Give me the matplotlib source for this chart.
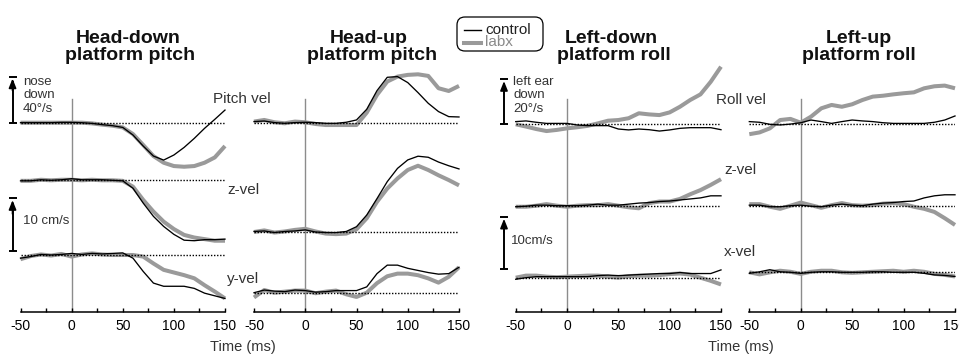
import numpy as np
import matplotlib
matplotlib.use("Agg")
import matplotlib.pyplot as plt
from matplotlib.patches import FancyBboxPatch
from matplotlib.lines import Line2D

plt.rcParams['font.family'] = ['Liberation Sans', 'DejaVu Sans']

# ---------------- data ----------------
time_ms = np.arange(-50, 151, 10)
tick_values = [-50, -25, 0, 25, 50, 75, 100, 125, 150]
tick_labels = ['-50', '', '0', '', '50', '', '100', '', '150']

panel_titles = [("Head-down", "platform pitch"), ("Head-up", "platform pitch"),
                ("Left-down", "platform roll"), ("Left-up", "platform roll")]
series_names = ["control", "labx"]

# Head-down platform pitch  (deg/s, cm/s)
hd_pitchvel_control = [0, 0, 0, 0, 0.3, 0.3, 0, -0.6, -1.7, -2.6, -4.1, -10.7, -20.3, -29.0, -32.5, -28.1, -21.5, -13.6, -4.9, 2.9, 11.0]
hd_pitchvel_labx = [0, 0, 0, 0, 0, 0, 0, -0.6, -1.7, -2.6, -4.1, -9.9, -19.4, -29.0, -34.8, -37.7, -38.3, -37.7, -34.8, -30.2, -20.3]
hd_zvel_control = [-0.1, -0.1, 0.1, 0.0, 0.1, 0.3, 0.1, 0.1, 0.1, 0.0, -0.1, -1.5, -4.3, -6.8, -8.7, -10.2, -11.3, -11.4, -11.2, -11.2, -11.1]
hd_zvel_labx = [-0.1, -0.1, 0.1, 0.0, 0.1, 0.1, 0.0, 0.1, 0.0, 0.0, -0.1, -1.2, -3.7, -5.9, -7.8, -9.2, -10.3, -10.8, -11.1, -11.4, -11.4]
hd_yvel_control = [-0.6, -0.3, 0.1, 0.0, 0.1, 0.3, 0.1, 0.3, 0.2, 0.3, 0.4, -0.6, -3.1, -5.3, -5.9, -5.9, -5.9, -6.3, -7.2, -7.7, -8.2]
hd_yvel_labx = [-0.8, -0.2, 0.1, -0.1, 0.2, -0.3, 0.1, 0.3, 0.1, 0.0, 0.0, 0.0, -0.3, -1.6, -2.8, -3.3, -3.8, -4.4, -5.7, -6.9, -8.2]

# Head-up platform pitch
hu_pitchvel_control = [1.5, 2.0, 0.6, 0.0, 0.6, 0.9, 0.6, 0.0, 0.0, 0.9, 2.9, 12.2, 28.4, 40.0, 40.6, 35.4, 26.7, 17.4, 10.2, 5.8, 5.5]
hu_pitchvel_labx = [1.5, 2.9, 0.9, 0.0, 1.5, 0.9, -0.6, -1.5, -1.5, -1.5, -1.5, 9.3, 24.7, 36.3, 40.6, 42.1, 42.6, 41.2, 30.5, 28.1, 32.5]
hu_zvel_control = [0.1, 0.2, -0.1, 0.1, 0.2, 0.4, 0.0, -0.1, -0.1, 0.1, 1.0, 3.2, 6.3, 9.5, 12.0, 13.6, 14.3, 14.1, 13.2, 12.5, 11.9]
hu_zvel_labx = [0.0, 0.3, -0.1, 0.1, 0.4, 0.6, 0.1, -0.3, -0.4, -0.3, 0.5, 2.6, 5.7, 8.2, 10.1, 11.7, 12.5, 11.7, 10.7, 9.8, 8.8]
hu_yvel_control = [0.0, 0.5, 0.3, 0.2, 0.5, 0.4, 0.1, 0.2, 0.4, 0.4, 0.4, 1.1, 3.6, 5.2, 5.2, 4.6, 4.2, 3.8, 3.5, 3.6, 4.8]
hu_yvel_labx = [-0.9, 0.5, 0.0, 0.2, 0.4, 0.4, -0.1, 0.2, 0.4, -0.3, -0.8, 0.0, 1.8, 3.1, 3.6, 3.6, 3.3, 2.7, 1.9, 3.0, 4.8]

# Left-down platform roll
ld_rollvel_control = [1.2, 1.5, 0.9, 0.4, 0.4, 0.4, -0.3, -0.6, -0.6, -0.6, -2.1, -2.5, -2.1, -2.4, -3.0, -2.5, -1.8, -1.5, -1.5, -1.5, -2.4]
ld_rollvel_labx = [0.0, -1.0, -2.1, -3.0, -2.5, -1.8, -1.3, -0.7, 0.4, 1.6, 1.9, 2.7, 4.9, 4.4, 4.1, 5.3, 7.8, 10.8, 13.3, 18.9, 25.6]
ld_zvel_control = [-0.2, -0.1, 0.1, 0.1, 0.0, 0.0, 0.0, 0.1, 0.3, 0.1, 0.1, 0.3, 0.5, 0.6, 0.8, 0.9, 1.1, 1.3, 1.5, 1.9, 1.9]
ld_zvel_labx = [-0.2, -0.2, 0.0, 0.3, 0.0, -0.2, 0.0, 0.1, 0.1, 0.3, 0.0, -0.3, -0.5, 0.5, 0.8, 0.8, 1.3, 2.2, 3.0, 4.0, 5.1]
ld_xvel_control = [-0.3, 0.0, 0.2, 0.2, 0.2, 0.2, 0.2, 0.2, 0.4, 0.5, 0.4, 0.5, 0.6, 0.7, 0.8, 0.8, 1.0, 0.8, 0.8, 0.8, 1.5]
ld_xvel_labx = [0.0, 0.4, 0.4, 0.2, 0.1, 0.2, 0.3, 0.4, 0.4, 0.2, 0.0, 0.3, 0.4, 0.4, 0.5, 0.7, 0.8, 0.6, 0.0, -0.6, -1.3]

# Left-up platform roll
lu_rollvel_control = [1.2, 0.9, 0.0, -0.3, 0.1, 0.7, 1.9, 1.2, 0.4, 1.2, 1.9, 1.5, 1.2, 0.7, 0.4, 0.4, 0.4, 0.4, 0.9, 1.9, 3.7]
lu_rollvel_labx = [-4.4, -3.6, -1.8, 1.9, 2.4, 0.7, 3.4, 7.1, 8.6, 7.8, 8.9, 10.8, 12.3, 12.7, 13.3, 13.8, 14.2, 16.0, 16.9, 17.2, 16.0]
lu_zvel_control = [0.1, 0.1, -0.2, -0.2, 0.0, 0.1, -0.1, -0.2, 0.1, 0.3, 0.1, 0.0, 0.3, 0.5, 0.6, 0.8, 0.9, 1.5, 1.9, 2.1, 2.1]
lu_zvel_labx = [0.3, 0.3, -0.2, -0.6, 0.0, 0.6, 0.1, -0.4, 0.1, 0.5, 0.1, 0.0, 0.1, 0.4, 0.5, 0.3, -0.2, -0.6, -1.2, -2.4, -3.7]
lu_xvel_control = [-0.2, 0.1, 0.5, 0.1, 0.0, -0.2, 0.0, 0.1, 0.1, 0.0, 0.0, 0.0, 0.1, 0.1, 0.0, 0.0, 0.0, -0.2, -0.5, -0.6, -0.8]
lu_xvel_labx = [0.0, -0.4, 0.0, 0.3, 0.1, -0.3, 0.1, 0.3, 0.3, 0.0, -0.1, 0.0, 0.1, 0.2, 0.3, 0.1, 0.3, 0.1, -0.3, -0.5, -0.8]

# ---------------- layout (pixels) ----------------
W, H = 959, 354
fig = plt.figure(figsize=(W / 100, H / 100), dpi=100)

def fx(px):
    return px / W

def fy(py):
    return 1 - py / H

AX_TOP, AX_BOT = 60, 312
panel_x = [(20.5, 225), (254, 459), (515.7, 721), (749.3, 955)]
pitch_ang_gain, pitch_lin_gain = 1.15, 5.3
roll_ang_gain, roll_lin_gain = 2.25, 5.2

panels = [
    dict(rows=[(hd_pitchvel_control, hd_pitchvel_labx, 122.7, pitch_ang_gain),
               (hd_zvel_control, hd_zvel_labx, 180.3, pitch_lin_gain),
               (hd_yvel_control, hd_yvel_labx, 255.0, pitch_lin_gain)]),
    dict(rows=[(hu_pitchvel_control, hu_pitchvel_labx, 123.3, pitch_ang_gain),
               (hu_zvel_control, hu_zvel_labx, 232.0, pitch_lin_gain),
               (hu_yvel_control, hu_yvel_labx, 292.7, pitch_lin_gain)]),
    dict(rows=[(ld_rollvel_control, ld_rollvel_labx, 124.3, roll_ang_gain),
               (ld_zvel_control, ld_zvel_labx, 205.7, roll_lin_gain),
               (ld_xvel_control, ld_xvel_labx, 277.7, roll_lin_gain)]),
    dict(rows=[(lu_rollvel_control, lu_rollvel_labx, 124.3, roll_ang_gain),
               (lu_zvel_control, lu_zvel_labx, 205.7, roll_lin_gain),
               (lu_xvel_control, lu_xvel_labx, 272.3, roll_lin_gain)]),
]

GREY = '#9a9a9a'
VGREY = '#8c8c8c'
TXT = '#333333'

row_axes = []
for pi, (x0, x1) in enumerate(panel_x):
    rect = [fx(x0), fy(AX_BOT), fx(x1) - fx(x0), (AX_BOT - AX_TOP) / H]
    base = fig.add_axes(rect)
    base.set_xlim(-50, 150)
    base.set_ylim(0, 1)
    base.patch.set_visible(False)
    for s in ['top', 'right', 'left']:
        base.spines[s].set_visible(False)
    base.spines['bottom'].set_linewidth(1.1)
    base.set_yticks([])
    base.set_xticks(tick_values)
    base.set_xticklabels(tick_labels)
    base.tick_params(axis='x', direction='in', length=3.2, width=1.0, pad=5,
                     labelsize=10, colors='black')
    base.axvline(0, ymin=0, ymax=(AX_BOT - 99) / (AX_BOT - AX_TOP), color=VGREY,
                 lw=1.0, zorder=1)
    rows = []
    for (ctrl, labx, baseline, gain) in panels[pi]['rows']:
        ax = fig.add_axes(rect)
        ax.set_xlim(-50, 150)
        ax.set_ylim((baseline - AX_BOT) / gain, (baseline - AX_TOP) / gain)
        ax.axis('off')
        ax.patch.set_visible(False)
        ax.plot(time_ms, labx, color=GREY, lw=2.9, solid_capstyle='butt',
                solid_joinstyle='round', zorder=2, clip_on=False)
        ax.axhline(0, color='black', lw=1.0, linestyle=(0, (1, 1.2)), zorder=3)
        ax.plot(time_ms, ctrl, color='black', lw=0.95, zorder=4, clip_on=False)
        rows.append(ax)
    row_axes.append(rows)

# ---------------- scale bars ----------------
def scale_bar(ax, x, y0, y1):
    cap = 3.9
    ax.plot([x, x], [y0, y1 - (y1 - y0) * 0.1], color='black', lw=1.4,
            clip_on=False, solid_capstyle='butt')
    ax.annotate('', xy=(x, y1 - (y1 - y0) * 0.04), xytext=(x, y1 - (y1 - y0) * 0.3),
                arrowprops=dict(arrowstyle='-|>,head_length=0.55,head_width=0.22',
                                color='black', lw=1.2, shrinkA=0, shrinkB=0),
                annotation_clip=False)
    for yy in (y0, y1):
        ax.plot([x - cap, x + cap], [yy, yy], color='black', lw=1.4, clip_on=False,
                solid_capstyle='butt')

scale_bar(row_axes[0][0], -57.8, 0, 40)
scale_bar(row_axes[0][2], -57.8, 0.75, 10.75)
scale_bar(row_axes[2][0], -61.4, 0, 20)
scale_bar(row_axes[2][2], -61.4, 1.73, 11.73)

def ftext(px, py, s, **kw):
    fig.text(fx(px), fy(py), s, **kw)

for i, line in enumerate(["nose", "down", "40°/s"]):
    ftext(23, 82 + 13.3 * i, line, fontsize=9.5, color=TXT, va='center', ha='left')
ftext(23, 221, "10 cm/s", fontsize=9.5, color=TXT, va='center', ha='left')
for i, line in enumerate(["left ear", "down", "20°/s"]):
    ftext(513, 82 + 13.5 * i, line, fontsize=9.5, color=TXT, va='center', ha='left')
ftext(511, 241, "10cm/s", fontsize=9.5, color=TXT, va='center', ha='left')

# row labels
for (px, py, s) in [(213, 99, "Pitch vel"), (227, 190, "z-vel"), (227, 279, "y-vel"),
                    (716, 100, "Roll vel"), (724, 170, "z-vel"), (724, 252, "x-vel")]:
    ftext(px, py, s, fontsize=11, color=TXT, va='center', ha='left')

# titles
title_x = [(128, 130), (369, 372), (611, 614), (859, 859)]
for (l1, l2), (xa, xb) in zip(panel_titles, title_x):
    ftext(xa, 42.7, l1, fontsize=14, fontweight='bold', color='#111111',
          ha='center', va='baseline')
    ftext(xb, 60, l2, fontsize=14, fontweight='bold', color='#111111',
          ha='center', va='baseline')

# x labels
ftext(243, 347, "Time (ms)", fontsize=10.5, color=TXT, ha='center', va='center')
ftext(741, 347, "Time (ms)", fontsize=10.5, color=TXT, ha='center', va='center')

# legend
box = FancyBboxPatch((4.57, (H - 51) / 100), 0.86, 0.34,
                     boxstyle='round,pad=0,rounding_size=0.08',
                     transform=fig.dpi_scale_trans, facecolor='white',
                     edgecolor='black', lw=0.9)
fig.patches.append(box)
fig.lines.append(Line2D([fx(464), fx(481)], [fy(30), fy(30)], color='black', lw=1.0,
                        transform=fig.transFigure))
fig.lines.append(Line2D([fx(464), fx(481)], [fy(43), fy(43)], color=GREY, lw=2.9,
                        transform=fig.transFigure))
ftext(485, 30, series_names[0], fontsize=11, color='#222222', va='center', ha='left')
ftext(485, 42.5, series_names[1], fontsize=11, color='#8a8a8a', va='center', ha='left')

fig.savefig("out.png", dpi=100)
